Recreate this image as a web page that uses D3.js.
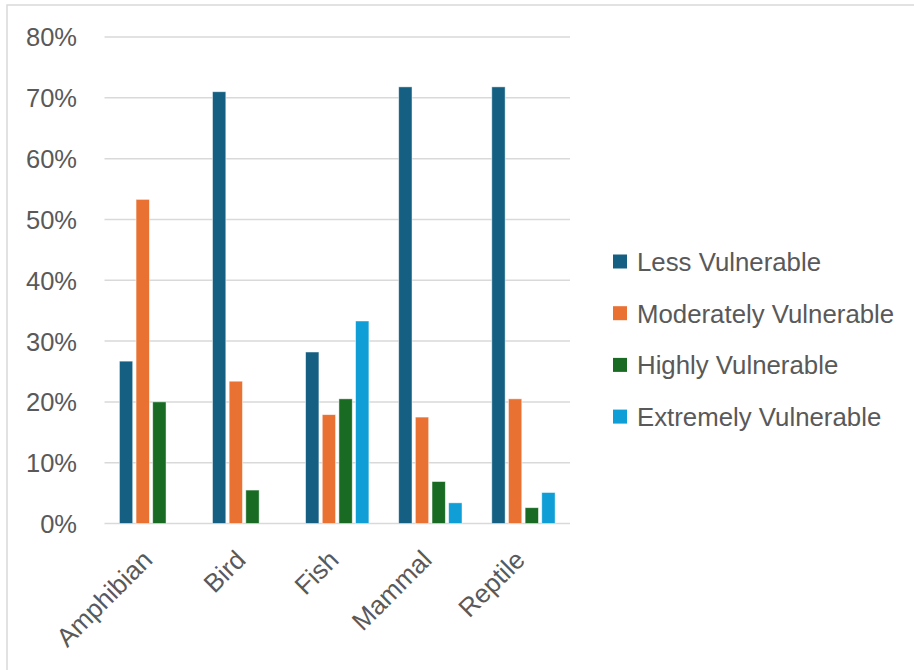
<!DOCTYPE html>
<html>
<head>
<meta charset="utf-8">
<script src="https://cdn.jsdelivr.net/npm/d3@7"></script>
<style>
  html, body { margin: 0; padding: 0; background: #fff; }
  svg { display: block; }
  text { font-family: "Liberation Sans", Arial, sans-serif; fill: #595959; }
</style>
</head>
<body>
<svg id="chart" width="914" height="670"></svg>
<script>
// Share of species in each vulnerability class, by taxonomic group (percent)
const categories = ["Amphibian", "Bird", "Fish", "Mammal", "Reptile"];
const seriesNames = ["Less Vulnerable", "Moderately Vulnerable", "Highly Vulnerable", "Extremely Vulnerable"];
const lessVulnerable = [26.7, 71.0, 28.2, 71.8, 71.8];
const moderatelyVulnerable = [53.3, 23.4, 17.9, 17.5, 20.5];
const highlyVulnerable = [20.0, 5.5, 20.5, 6.9, 2.6];
const extremelyVulnerable = [0, 0, 33.3, 3.4, 5.1];
const yTicks = [0, 10, 20, 30, 40, 50, 60, 70, 80];
const colors = ["#156082", "#E97132", "#196B24", "#0F9ED5"];

const seriesValues = [lessVulnerable, moderatelyVulnerable, highlyVulnerable, extremelyVulnerable];
const rows = categories.map((c, i) => ({
  category: c,
  values: seriesNames.map((s, j) => ({ series: s, value: seriesValues[j][i], color: colors[j] }))
}));

const svg = d3.select("#chart");

// Chart frame (only top/left edges fall within the view)
svg.append("rect")
  .attr("x", 7).attr("y", 5).attr("width", 940).attr("height", 700)
  .attr("fill", "none").attr("stroke", "#d9d9d9").attr("stroke-width", 1.5);

const plot = { left: 104.5, right: 570, top: 37, bottom: 523.5 };

const y = d3.scaleLinear().domain([0, 80]).range([plot.bottom, plot.top]);
const x0 = d3.scaleBand().domain(categories).range([plot.left, plot.right]).padding(0);
const groupW = x0.bandwidth() * 0.68;
const x1 = d3.scaleBand().domain(seriesNames).range([0, groupW]).paddingInner(0.2).paddingOuter(0);

// Gridlines
svg.append("g")
  .selectAll("line")
  .data(yTicks)
  .join("line")
  .attr("x1", plot.left).attr("x2", plot.right)
  .attr("y1", d => y(d)).attr("y2", d => y(d))
  .attr("stroke", "#d9d9d9").attr("stroke-width", 1.5);

// Y axis labels
const yAxis = d3.axisLeft(y).tickValues(yTicks).tickSize(0).tickPadding(0).tickFormat(d => d + "%");
const yg = svg.append("g").attr("transform", "translate(77,0)").call(yAxis);
yg.select(".domain").remove();
yg.selectAll("text")
  .attr("font-size", 25.5)
  .style("font-family", "'Liberation Sans', Arial, sans-serif")
  .attr("fill", "#595959")
  .attr("dy", "0.35em");

// Bars
const groups = svg.append("g")
  .selectAll("g")
  .data(rows)
  .join("g")
  .attr("transform", d => `translate(${x0(d.category) + (x0.bandwidth() - groupW) / 2},0)`);

groups.selectAll("rect")
  .data(d => d.values.filter(v => v.value > 0))
  .join("rect")
  .attr("x", d => x1(d.series))
  .attr("y", d => y(d.value))
  .attr("width", x1.bandwidth())
  .attr("height", d => y(0) - y(d.value))
  .attr("fill", d => d.color)
  .attr("stroke", "#ffffff")
  .attr("stroke-opacity", 0.6)
  .attr("stroke-width", 0.8);

// X axis category labels, rotated
const xAxis = d3.axisBottom(x0).tickSize(0).tickPadding(0);
const xg = svg.append("g").attr("transform", `translate(0,${plot.bottom})`).call(xAxis);
xg.select(".domain").remove();
xg.selectAll("text")
  .attr("font-size", 26)
  .style("font-family", "'Liberation Sans', Arial, sans-serif")
  .attr("fill", "#595959")
  .attr("text-anchor", "end")
  .attr("dy", null)
  .attr("y", 0)
  .attr("transform", "translate(3,38) rotate(-45)");

// Legend
const legend = svg.append("g")
  .selectAll("g")
  .data(seriesNames)
  .join("g")
  .attr("transform", (d, i) => `translate(613,${262 + i * 51.7})`);

legend.append("rect")
  .attr("x", 0).attr("y", -7.5)
  .attr("width", 14).attr("height", 14)
  .attr("fill", (d, i) => colors[i]);

legend.append("text")
  .attr("x", 24).attr("y", 0).attr("dy", "0.35em")
  .attr("font-size", 25.8)
  .text(d => d);
</script>
</body>
</html>
